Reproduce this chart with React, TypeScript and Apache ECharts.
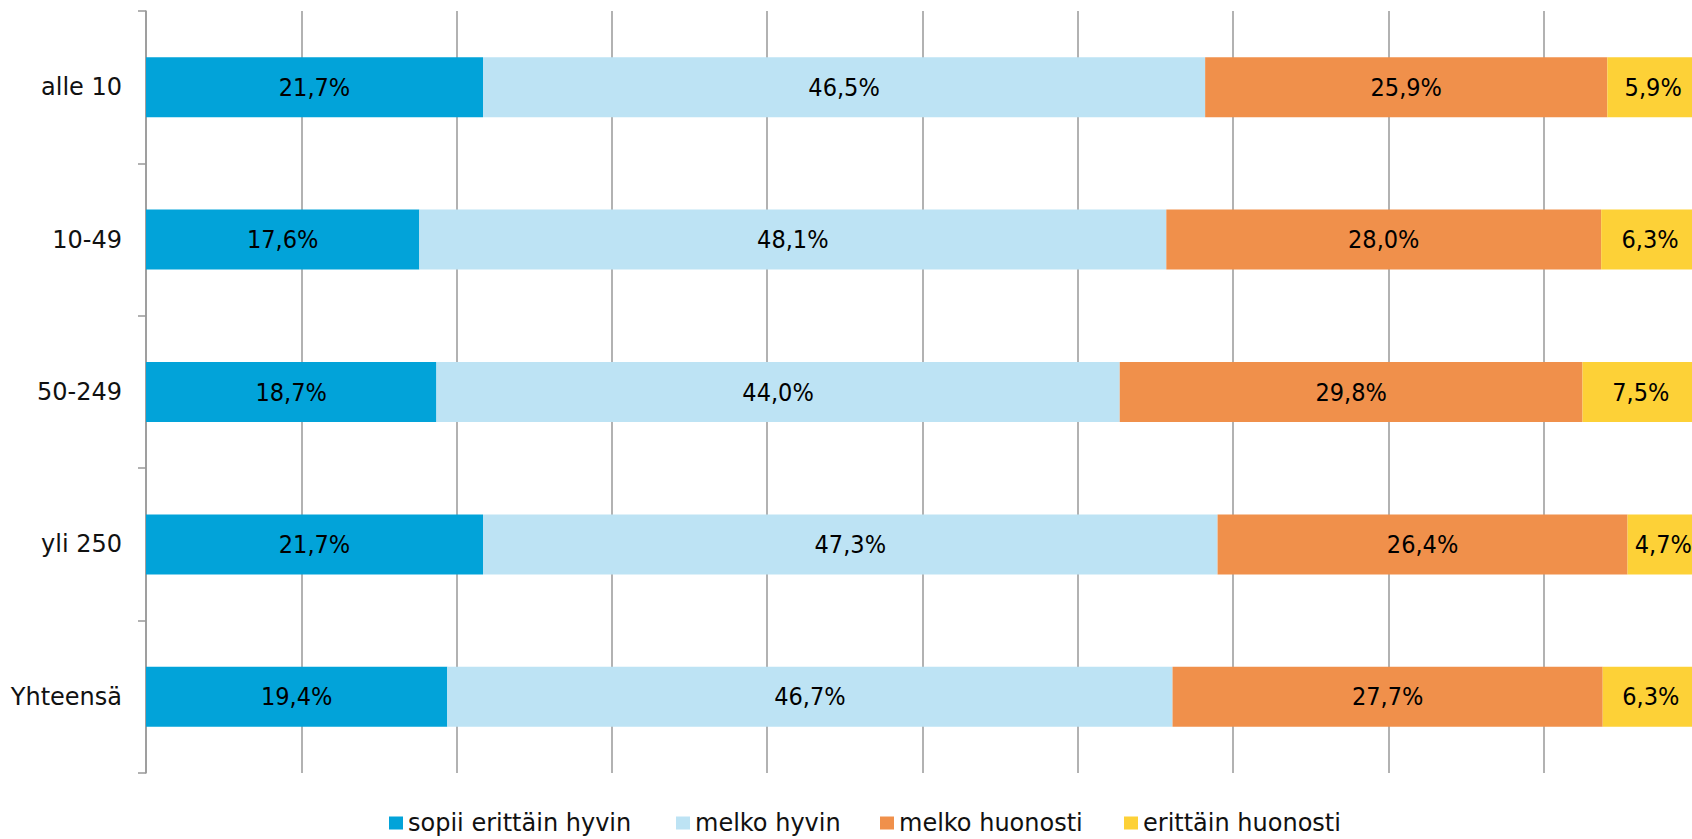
import React, { useEffect, useRef } from "react";
import * as echarts from "echarts";

const categories = ["alle 10", "10-49", "50-249", "yli 250", "Yhteensä"];
const seriesNames = ["sopii erittäin hyvin", "melko hyvin", "melko huonosti", "erittäin huonosti"];
const sopiiErittainHyvin = [21.7, 17.6, 18.7, 21.7, 19.4];
const melkoHyvin = [46.5, 48.1, 44.0, 47.3, 46.7];
const melkoHuonosti = [25.9, 28.0, 29.8, 26.4, 27.7];
const erittainHuonosti = [5.9, 6.3, 7.5, 4.7, 6.3];
const colors = ["#02A3D9", "#BDE3F4", "#F0904B", "#FDD137"];
const legendLefts = [389, 676, 880, 1124];

export default function App() {
  const ref = useRef<HTMLDivElement>(null);
  useEffect(() => {
    if (!ref.current) return;
    const chart = echarts.init(ref.current, null, { renderer: "svg" });
    const values = [sopiiErittainHyvin, melkoHyvin, melkoHuonosti, erittainHuonosti];
    const fmt = (p: any) => p.value.toFixed(1).replace(".", ",") + "%";
    chart.setOption({
      animation: false,
      grid: {
        left: 146,
        width: 1553,
        top: 11,
        bottom: 66,
        containLabel: false,
        outerBoundsMode: "none",
      },
      legend: seriesNames.map((n, i) => ({
        data: [n],
        left: legendLefts[i],
        top: 811,
        padding: 0,
        icon: "rect",
        itemWidth: 14,
        itemHeight: 13,
        selectedMode: false,
        textStyle: { fontFamily: "DejaVu Sans", fontSize: 24, color: "#111111" },
      })),
      xAxis: {
        type: "value",
        min: 0,
        max: 100,
        interval: 10,
        axisLine: { show: false },
        axisTick: { show: false },
        axisLabel: { show: false },
        splitLine: { show: true, lineStyle: { color: "#999999", width: 1.5 } },
      },
      yAxis: {
        type: "category",
        data: categories,
        inverse: true,
        axisLine: { show: true, lineStyle: { color: "#999999", width: 1.5 } },
        axisTick: { show: true, length: 8, inside: false, lineStyle: { color: "#999999", width: 1.5 } },
        axisLabel: { margin: 24, fontFamily: "DejaVu Sans", fontSize: 24, color: "#111111" },
      },
      series: seriesNames.map((n, i) => ({
        name: n,
        type: "bar",
        stack: "total",
        barWidth: 60,
        data: values[i],
        itemStyle: { color: colors[i] },
        label: {
          show: true,
          position: "inside",
          formatter: fmt,
          fontFamily: "'DejaVu Sans Condensed', Roboto",
          fontSize: 25,
          color: "#000000",
        },
      })),
    });
    return () => chart.dispose();
  }, []);
  return (
    <div
      ref={ref}
      style={{ position: "absolute", left: 0, top: 0, width: 1692, height: 839 }}
    />
  );
}
